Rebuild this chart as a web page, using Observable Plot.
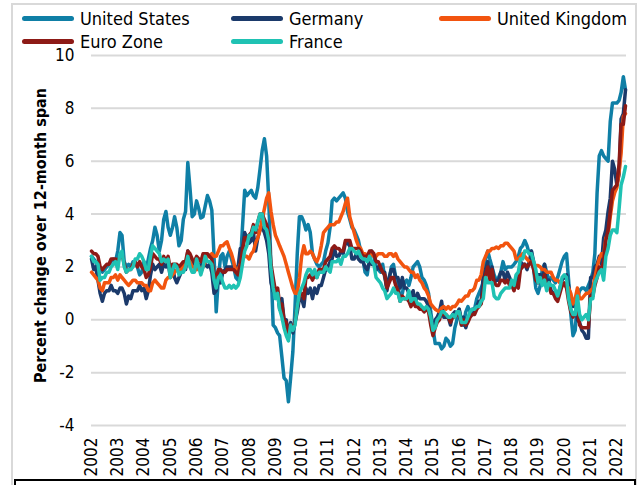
<!DOCTYPE html>
<html><head><meta charset="utf-8">
<script src="https://cdn.jsdelivr.net/npm/d3@7"></script>
<script src="https://cdn.jsdelivr.net/npm/@observablehq/plot@0.6"></script>
<style>
body{margin:0;background:#fff;}
#wrap{position:relative;width:644px;height:485px;overflow:hidden;font-family:"DejaVu Sans Condensed","DejaVu Sans",sans-serif;}
#frame{position:absolute;left:11px;top:3px;width:622px;height:490px;border:2px solid #d9d9d9;}
#bottombox{position:absolute;left:14px;top:479px;width:618px;height:30px;border:2px solid #000;background:#fff;}
.leg{position:absolute;font-size:18px;color:#000;display:flex;align-items:center;height:20px;white-space:nowrap;}
.sw{display:inline-block;width:52px;height:5px;border-radius:3px;margin-right:6px;}
#chart{position:absolute;left:0;top:0;}
</style></head>
<body>
<div id="wrap">
  <div id="frame"></div>
  <div id="chart"></div>
  <div id="legend"></div>
  <div id="bottombox"></div>
</div>
<script>
const seriesNames = ["United States", "Germany", "United Kingdom", "Euro Zone", "France"];
const seriesColors = ["#0f7fa6", "#1b3a6b", "#f2540f", "#8d1a16", "#1fc2b3"];
const yTicks = [-4, -2, 0, 2, 4, 6, 8, 10];
const yearLabels = ["2002","2003","2004","2005","2006","2007","2008","2009","2010","2011","2012","2013","2014","2015","2016","2017","2018","2019","2020","2021","2022"];
const yTitle = "Percent change over 12-month span";
const firstMonth = "2002-01";   // monthly series, Jan 2002 .. May 2022

const unitedStates = [
 2.4,2.3,2.2,2.0,1.9,1.8,1.9,2.0,2.1,2.2,2.3,2.2,
 2.6,3.3,3.2,2.2,2.0,2.1,2.0,2.2,2.2,2.0,1.7,1.8,
 2.2,1.9,2.3,2.7,3.0,3.5,3.2,2.6,3.0,3.8,4.1,3.5,
 3.2,3.5,3.9,3.5,2.8,3.0,3.8,4.1,5.95,5.0,3.9,4.0,
 4.5,4.2,3.85,3.9,4.3,4.7,4.5,4.15,2.4,0.3,1.6,2.4,
 2.5,2.0,2.4,2.6,2.3,2.0,1.6,1.5,2.1,3.5,4.9,4.7,
 4.8,4.9,4.7,4.6,5.0,5.7,6.4,6.85,6.2,4.5,2.0,-0.2,
 -0.3,-0.5,-0.6,-1.4,-2.2,-2.3,-3.1,-2.2,-1.2,0.5,2.5,3.9,
 3.9,3.7,3.4,3.6,3.3,2.5,2.3,2.1,2.0,2.1,2.2,2.6,
 2.9,3.5,4.5,4.6,4.5,4.6,4.7,4.8,4.6,4.1,3.8,3.5,
 3.4,3.2,3.0,2.6,2.3,1.8,1.7,2.3,2.6,2.4,2.0,1.9,
 1.8,2.1,1.6,1.2,1.5,2.0,2.1,1.6,1.3,0.8,1.0,1.4,
 1.5,1.3,1.6,2.0,2.1,2.2,2.0,1.6,1.5,1.3,1.0,0.3,
 -0.3,-0.9,-0.9,-0.9,-1.1,-1.0,-0.7,-0.8,-1.0,-0.9,-0.3,0.0,
 0.4,0.0,-0.2,0.3,0.5,0.3,0.2,0.4,0.8,1.0,1.2,1.4,
 2.3,2.6,2.3,2.0,1.7,1.5,1.6,1.8,2.2,1.9,2.0,2.0,
 2.0,2.1,2.2,2.4,2.7,2.8,3.0,2.8,2.5,2.6,1.9,1.2,
 1.0,1.3,1.9,2.1,1.8,1.5,1.6,1.5,1.4,1.6,1.9,2.2,
 2.4,2.5,1.5,0.2,-0.6,-0.4,0.8,1.1,1.2,1.2,1.1,1.3,
 1.5,1.8,2.5,4.8,6.2,6.4,6.2,6.1,6.0,7.5,8.2,8.2,
 8.2,8.3,8.6,9.2,8.7
];
const germany = [
 2.3,1.9,2.0,1.5,1.0,0.7,1.0,1.1,1.1,1.3,1.1,1.1,
 1.0,1.2,1.2,1.0,0.6,0.9,0.8,1.1,1.1,1.1,1.3,1.1,
 1.2,0.8,1.1,1.7,2.1,1.9,2.0,2.1,1.8,2.1,2.0,2.2,
 1.6,2.0,1.6,1.4,1.6,1.8,1.9,1.9,2.6,2.4,2.2,2.1,
 2.1,2.1,1.9,2.3,2.1,2.0,2.1,1.8,1.0,1.1,1.5,1.4,
 1.8,1.9,2.0,2.0,2.0,2.0,2.0,2.0,2.7,2.7,3.3,3.1,
 2.9,3.0,3.3,2.6,3.1,3.4,3.5,3.3,3.0,2.5,1.4,1.1,
 0.9,1.0,0.4,0.8,0.0,0.0,-0.7,-0.1,-0.5,-0.1,0.3,0.8,
 0.8,0.5,1.2,1.0,1.2,0.8,1.2,1.0,1.3,1.3,1.6,1.9,
 2.0,2.2,2.3,2.7,2.4,2.4,2.6,2.5,2.9,2.9,2.8,2.3,
 2.3,2.5,2.3,2.2,2.2,2.0,1.9,2.2,2.1,2.1,1.9,2.0,
 1.9,1.8,1.8,1.1,1.6,1.9,1.9,1.6,1.6,1.2,1.6,1.2,
 1.2,1.0,0.9,1.1,0.6,1.0,0.8,0.8,0.8,0.7,0.5,0.1,
 -0.5,0.0,0.1,0.3,0.7,0.1,0.1,0.1,-0.2,0.2,0.3,0.2,
 0.4,-0.2,0.1,-0.3,0.0,0.2,0.4,0.3,0.5,0.7,0.7,1.7,
 1.9,2.2,1.5,2.0,1.4,1.5,1.5,1.8,1.8,1.5,1.8,1.6,
 1.4,1.2,1.5,1.4,2.2,2.1,2.1,1.9,2.2,2.6,2.2,1.7,
 1.7,1.7,1.4,2.1,1.3,1.5,1.1,1.0,0.9,0.9,1.2,1.5,
 1.6,1.7,1.3,0.8,0.5,0.8,0.0,-0.1,-0.4,-0.5,-0.7,-0.7,
 1.6,1.6,2.0,2.1,2.4,2.1,3.1,3.4,4.1,4.6,6.0,5.7,
 5.1,5.5,7.6,7.8,8.7
];
const unitedKingdom = [
 1.8,1.7,1.6,1.5,1.2,1.1,1.4,1.4,1.4,1.6,1.6,1.7,
 1.5,1.7,1.6,1.5,1.4,1.3,1.4,1.5,1.5,1.4,1.4,1.4,
 1.3,1.3,1.1,1.1,1.4,1.5,1.4,1.3,1.2,1.2,1.5,1.6,
 1.6,1.7,1.8,1.9,1.8,1.9,2.1,2.2,2.3,2.2,2.0,2.0,
 1.9,2.0,1.8,2.0,2.2,2.4,2.4,2.5,2.4,2.4,2.6,2.8,
 2.8,2.9,2.95,2.7,2.5,2.2,1.8,1.9,2.1,2.3,2.4,2.4,
 2.3,2.5,2.6,2.9,3.1,3.4,3.8,4.2,4.6,4.8,4.1,3.6,
 3.2,3.0,2.8,2.6,2.4,2.1,1.8,1.5,1.2,1.0,1.0,1.6,
 2.4,2.8,2.5,2.5,2.6,2.5,2.3,2.2,2.4,2.8,3.3,3.4,
 3.5,3.6,3.6,3.6,3.7,3.7,3.9,4.1,4.4,4.6,3.9,3.6,
 3.3,3.0,2.8,2.7,2.5,2.5,2.4,2.4,2.5,2.4,2.4,2.5,
 2.5,2.5,2.4,2.4,2.5,2.5,2.4,2.5,2.3,2.2,2.1,2.0,
 2.0,1.9,1.8,1.8,1.6,1.7,1.5,1.4,1.2,1.1,0.9,0.6,
 0.5,0.4,0.35,0.3,0.45,0.5,0.4,0.5,0.4,0.5,0.5,0.6,
 0.75,0.7,0.8,0.9,0.9,1.1,1.1,1.2,1.5,1.5,1.7,2.2,
 2.4,2.6,2.6,2.7,2.7,2.75,2.7,2.8,2.8,2.9,2.9,2.8,
 2.7,2.6,2.3,2.3,2.4,2.5,2.4,2.3,2.2,2.2,2.1,2.05,
 2.05,2.0,1.9,1.9,1.8,1.8,1.8,1.6,1.5,1.5,1.4,1.3,
 1.3,1.3,1.2,1.0,0.6,0.8,1.2,0.8,0.8,0.9,1.0,1.0,
 1.1,1.2,1.6,2.0,2.3,2.5,2.4,3.1,3.2,3.9,4.5,4.8,
 5.0,5.6,6.3,7.7,7.8
];
const euroZone = [
 2.6,2.5,2.5,2.4,2.0,1.9,2.0,2.1,2.1,2.3,2.3,2.3,
 2.2,2.4,2.5,2.1,1.8,1.9,1.9,2.1,2.2,2.0,2.2,2.0,
 1.9,1.6,1.7,2.0,2.5,2.4,2.3,2.3,2.1,2.4,2.2,2.4,
 1.9,2.1,2.1,2.1,2.0,2.1,2.2,2.2,2.6,2.5,2.3,2.2,
 2.4,2.3,2.2,2.5,2.5,2.5,2.4,2.3,1.7,1.6,1.9,1.9,
 1.8,1.8,1.9,1.9,1.9,1.9,1.8,1.7,2.1,2.6,3.1,3.1,
 3.2,3.3,3.6,3.3,3.7,4.0,4.0,3.8,3.6,3.2,2.1,1.6,
 1.1,1.2,0.6,0.6,0.0,-0.1,-0.6,-0.2,-0.3,-0.1,0.5,0.9,
 1.0,0.8,1.6,1.6,1.7,1.5,1.7,1.6,1.9,1.9,1.9,2.2,
 2.3,2.4,2.7,2.8,2.7,2.7,2.6,2.6,3.0,3.0,3.0,2.7,
 2.7,2.7,2.7,2.6,2.4,2.4,2.4,2.6,2.6,2.5,2.2,2.2,
 2.0,1.8,1.7,1.2,1.4,1.6,1.6,1.3,1.1,0.7,0.9,0.8,
 0.8,0.7,0.5,0.7,0.5,0.5,0.4,0.4,0.3,0.4,0.3,-0.2,
 -0.6,-0.3,-0.1,0.0,0.3,0.2,0.2,0.1,-0.1,0.1,0.1,0.2,
 0.3,-0.2,0.0,-0.2,-0.1,0.1,0.2,0.2,0.4,0.5,0.6,1.1,
 1.7,2.0,1.5,1.9,1.4,1.3,1.3,1.5,1.5,1.4,1.5,1.3,
 1.3,1.1,1.4,1.2,1.9,2.0,2.1,2.0,2.1,2.2,1.9,1.5,
 1.4,1.5,1.4,1.7,1.2,1.3,1.0,1.0,0.8,0.7,1.0,1.3,
 1.4,1.2,0.7,0.3,0.1,0.3,0.4,-0.2,-0.3,-0.3,-0.3,-0.3,
 0.9,0.9,1.3,1.6,2.0,1.9,2.2,3.0,3.4,4.1,4.9,5.0,
 5.1,5.9,7.4,7.4,8.1
];
const france = [
 2.4,2.2,2.2,2.1,1.5,1.6,1.6,1.8,1.8,2.0,2.1,2.2,
 1.9,2.5,2.6,2.0,1.8,1.9,1.9,2.0,2.3,2.3,2.5,2.4,
 2.2,1.9,1.9,2.4,2.8,2.7,2.6,2.5,2.2,2.3,2.2,2.3,
 1.6,1.9,2.1,2.0,1.7,1.8,1.8,2.0,2.4,2.0,1.8,1.8,
 2.3,2.0,1.7,2.0,2.4,2.2,2.2,2.1,1.5,1.2,1.6,1.7,
 1.4,1.2,1.2,1.3,1.2,1.3,1.2,1.3,1.6,2.1,2.6,2.8,
 3.2,3.2,3.5,3.4,3.7,4.0,4.0,3.5,3.4,3.0,1.9,1.2,
 0.8,1.0,0.4,0.1,-0.3,-0.6,-0.8,-0.2,-0.4,-0.2,0.5,1.0,
 1.2,1.4,1.7,1.9,1.9,1.7,1.9,1.6,1.8,1.8,1.8,2.0,
 1.9,1.8,2.2,2.2,2.2,2.3,2.1,2.4,2.4,2.5,2.7,2.7,
 2.6,2.5,2.6,2.4,2.3,2.3,2.2,2.4,2.2,2.1,1.6,1.5,
 1.4,1.2,1.1,0.8,0.9,1.0,1.2,1.0,1.0,0.7,0.8,0.8,
 0.8,1.1,0.7,0.8,0.8,0.6,0.6,0.5,0.4,0.5,0.4,0.1,
 -0.4,-0.3,0.0,0.1,0.3,0.3,0.2,0.1,0.1,0.2,0.1,0.3,
 0.3,-0.1,-0.1,-0.1,0.1,0.3,0.4,0.4,0.5,0.5,0.7,0.8,
 1.6,1.4,1.4,1.4,0.9,0.8,0.8,1.0,1.1,1.2,1.2,1.2,
 1.5,1.3,1.7,1.8,2.3,2.3,2.6,2.6,2.5,2.5,2.2,1.9,
 1.4,1.6,1.3,1.5,1.1,1.4,1.3,1.3,1.1,0.9,1.2,1.6,
 1.7,1.6,0.8,0.4,0.2,0.2,0.9,0.2,0.0,0.1,0.2,0.0,
 0.8,0.8,1.4,1.6,1.8,1.9,1.5,2.4,2.7,3.2,3.4,3.4,
 3.3,4.2,5.1,5.4,5.8
];

const seriesValues = [unitedStates, germany, unitedKingdom, euroZone, france];

const parseMonth = d3.utcParse("%Y-%m");
const t0 = parseMonth(firstMonth);
const rows = [];
seriesValues.forEach((vals, s) => {
  vals.forEach((v, i) => rows.push({date: d3.utcMonth.offset(t0, i), value: v, series: seriesNames[s]}));
});
const yearDates = yearLabels.map(y => d3.utcParse("%Y")(y));
const xEnd = d3.utcDay.offset(d3.utcMonth.offset(t0, unitedStates.length - 1), 14);
const hyphenFormat = d => (d < 0 ? "-" + Math.abs(d) : String(d));

const chart = Plot.plot({
  width: 644,
  height: 485,
  marginLeft: 91,
  marginRight: 18,
  marginTop: 55,
  marginBottom: 60,
  style: {background: "transparent", fontFamily: '"DejaVu Sans Condensed","DejaVu Sans",sans-serif', color: "#000"},
  x: {type: "utc", domain: [t0, xEnd]},
  y: {domain: [-4, 10]},
  color: {domain: seriesNames, range: seriesColors},
  marks: [
    Plot.gridY(yTicks, {stroke: "#d9d9d9", strokeOpacity: 1, strokeWidth: 2}),
    Plot.axisY(yTicks, {tickSize: 0, tickPadding: 17, fontSize: 17, label: null, tickFormat: hyphenFormat}),
    Plot.axisX(yearDates, {tickSize: 0, tickRotate: -90, tickPadding: 12, fontSize: 17, label: null, tickFormat: d3.utcFormat("%Y")}),
    Plot.line(rows, {x: "date", y: "value", z: "series", stroke: "series", strokeWidth: 3.5, strokeLinejoin: "round", strokeLinecap: "round"}),
    Plot.text([yTitle], {frameAnchor: "left", textAnchor: "middle", dx: -51, dy: -5, rotate: -90, fontSize: 16, fontWeight: "bold", fill: "#000"})
  ]
});
document.getElementById("chart").appendChild(chart);

const legendPos = [[22, 8], [231, 8], [439, 8], [22, 31], [231, 31]];
const legend = document.getElementById("legend");
seriesNames.forEach((name, i) => {
  const d = document.createElement("div");
  d.className = "leg";
  d.style.left = legendPos[i][0] + "px";
  d.style.top = legendPos[i][1] + "px";
  const sw = document.createElement("span");
  sw.className = "sw";
  sw.style.background = seriesColors[i];
  d.appendChild(sw);
  d.appendChild(document.createTextNode(name));
  legend.appendChild(d);
});
</script>
</body></html>
